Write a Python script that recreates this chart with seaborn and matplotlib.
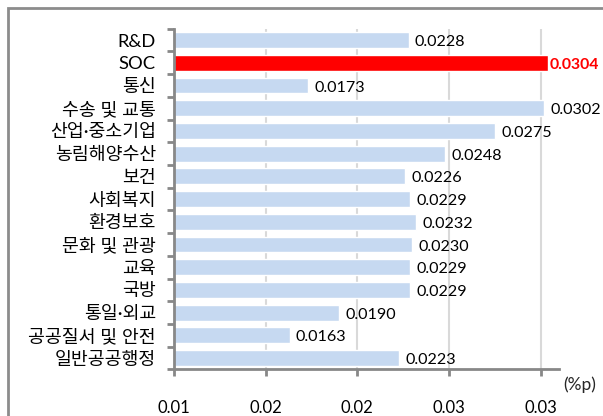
import matplotlib
matplotlib.use("Agg")
import matplotlib.pyplot as plt
import seaborn as sns
import pandas as pd
from matplotlib.patches import Rectangle

categories = ["R&D", "SOC", "통신", "수송 및 교통", "산업·중소기업", "농림해양수산",
              "보건", "사회복지", "환경보호", "문화 및 관광", "교육", "국방",
              "통일·외교", "공공질서 및 안전", "일반공공행정"]
values = [0.0228, 0.0304, 0.0173, 0.0302, 0.0275, 0.0248, 0.0226, 0.0229,
          0.0232, 0.0230, 0.0229, 0.0229, 0.0190, 0.0163, 0.0223]
highlight = "SOC"
tick_values = [0.010, 0.015, 0.020, 0.025, 0.030]
tick_labels = ["0.01", "0.02", "0.02", "0.03", "0.03"]
unit_label = "(%p)"

sns.set_theme(style="white")
plt.rcParams["font.family"] = ["Lato", "Noto Sans CJK KR", "DejaVu Sans"]

BLUE = "#C6D9F1"
RED = "#FF0000"
AXIS = "#888888"

df = pd.DataFrame({"category": categories, "value": values})
palette = {c: (RED if c == highlight else BLUE) for c in categories}

fig = plt.figure(figsize=(6.03, 4.16), dpi=100)
ax = fig.add_axes([0.2886, 0.112, 0.6384, 0.819])

sns.barplot(data=df, x="value", y="category", hue="category", palette=palette,
            order=categories, legend=False, width=0.7, ax=ax, saturation=1,
            zorder=2)

ax.set_xlim(0.010, 0.031)
ax.set_ylim(len(categories) - 0.5, -0.5)
ax.set_xticks(tick_values)
ax.set_xticklabels(tick_labels)
ax.set_xlabel("")
ax.set_ylabel("")

# vertical gridlines
for t in tick_values:
    ax.axvline(t, color="#D9D9D9", lw=1.5, zorder=0)

for s in ["top", "right"]:
    ax.spines[s].set_visible(False)
for s in ["left", "bottom"]:
    ax.spines[s].set_color(AXIS)
    ax.spines[s].set_linewidth(2)

# y ticks sit on category boundaries
ax.set_yticks(range(len(categories)))
ax.set_yticklabels(categories)
ax.set_yticks([i - 0.5 for i in range(len(categories) + 1)], minor=True)
ax.tick_params(axis="y", which="major", length=0, pad=13, labelsize=13.2,
               labelcolor="#000000")
ax.tick_params(axis="y", which="minor", length=5, width=2, color=AXIS,
               direction="out", left=True)
ax.tick_params(axis="x", which="major", length=5, width=2, color=AXIS,
               direction="out", pad=17, labelsize=12, labelcolor="#000000",
               bottom=True)

# value labels
for bar, cat, v in zip(ax.patches, categories, values):
    y = bar.get_y() + bar.get_height() / 2
    hi = cat == highlight
    ax.annotate(f"{v:.4f}", xy=(v, y), xytext=(4.5 if not hi else 1, -1.5),
                textcoords="offset points", va="center", ha="left",
                fontsize=11.6 if not hi else 11.4,
                color=RED if hi else "#000000",
                fontweight="bold" if hi else "normal", clip_on=False)

ax.annotate(unit_label, xy=(1.0, 0), xycoords="axes fraction",
            xytext=(3, -11), textcoords="offset points",
            ha="left", va="center", fontsize=12.5)

# outer chart frame
fig.patches.append(Rectangle((8 / 603, -0.1), 1.2, 1 - 8 / 416 + 0.1,
                             transform=fig.transFigure, fill=False,
                             edgecolor="#8C8C8C", lw=2))

fig.savefig("out.png", dpi=100)
